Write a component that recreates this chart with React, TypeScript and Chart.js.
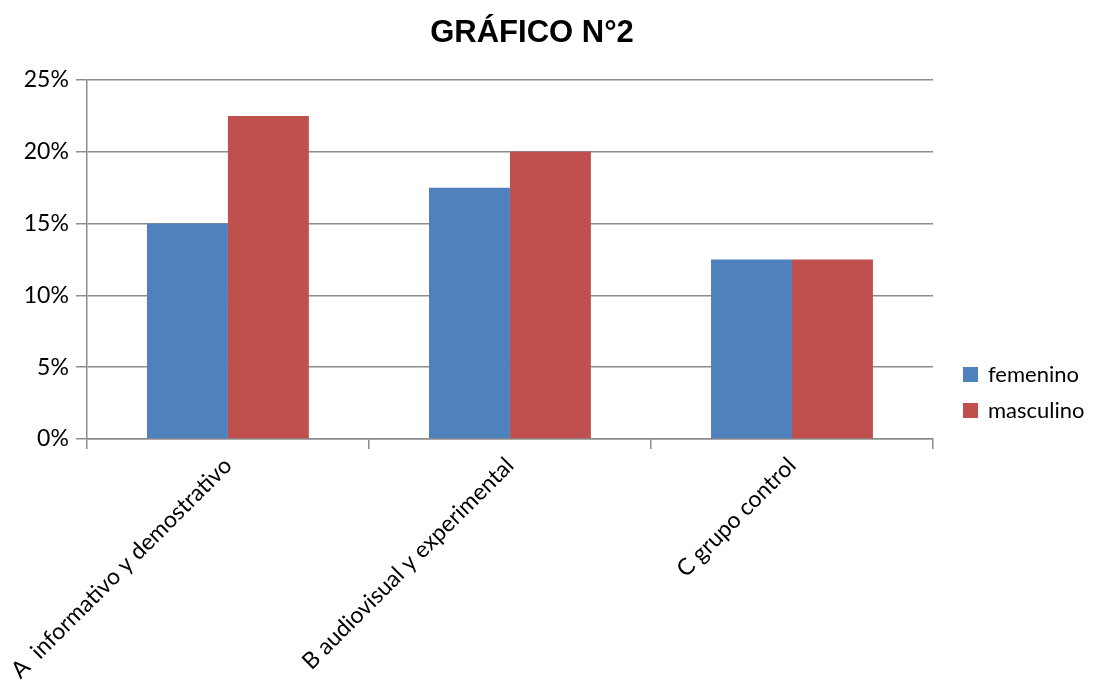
import React, { useEffect, useRef } from "react";
import { Chart, registerables } from "chart.js";

Chart.register(...registerables);

const title = "GRÁFICO N°2";
const categories = [
  "A  informativo y demostrativo",
  "B audiovisual y experimental",
  "C grupo control",
];
const femenino = [0.15, 0.175, 0.125];
const masculino = [0.225, 0.2, 0.125];
const yTicks = [0, 0.05, 0.1, 0.15, 0.2, 0.25];

const BLUE = "#4F81BD";
const RED = "#C0504D";
const GRID = "#8c8c8c";
const LABEL_FONT = "Lato, 'Open Sans', sans-serif";

// Draws the centered heading and the right-hand legend.
const decorations = {
  id: "decorations",
  afterDraw(chart: any) {
    const ctx = chart.ctx as CanvasRenderingContext2D;
    ctx.save();
    ctx.fillStyle = "#000";
    ctx.font = "bold 31px 'Liberation Sans', Arial, sans-serif";
    ctx.textAlign = "center";
    ctx.textBaseline = "alphabetic";
    ctx.fillText(title, 532, 42);

    const boxX = 963;
    const box = 15;
    let cy = 374.5;
    ctx.font = `22px ${LABEL_FONT}`;
    ctx.textAlign = "left";
    ctx.textBaseline = "middle";
    chart.data.datasets.forEach((ds: any) => {
      ctx.fillStyle = ds.backgroundColor;
      ctx.fillRect(boxX, cy - box / 2, box, box);
      ctx.fillStyle = "#000";
      ctx.fillText(ds.label, 988, cy);
      cy += 36;
    });
    ctx.restore();
  },
};

export default function App() {
  const ref = useRef<HTMLCanvasElement>(null);

  useEffect(() => {
    if (!ref.current) return;
    const chart = new Chart(ref.current, {
      type: "bar",
      data: {
        labels: categories,
        datasets: [
          { label: "femenino", data: femenino, backgroundColor: BLUE },
          { label: "masculino", data: masculino, backgroundColor: RED },
        ],
      },
      options: {
        animation: false,
        responsive: true,
        maintainAspectRatio: false,
        layout: { padding: { top: 80, right: 166, left: 4, bottom: 0 } },
        plugins: {
          legend: { display: false },
          title: { display: false },
          tooltip: { enabled: false },
        },
        datasets: {
          bar: { categoryPercentage: 0.574, barPercentage: 1 },
        },
        scales: {
          x: {
            afterFit: (axis: any) => {
              axis.height = 242;
            },
            grid: {
              offset: true,
              drawOnChartArea: false,
              drawTicks: true,
              tickLength: 10,
              color: GRID,
              lineWidth: 1.5,
            },
            border: { color: GRID, width: 1.5 },
            ticks: {
              color: "#000",
              font: { family: LABEL_FONT, size: 23 },
              minRotation: 45,
              maxRotation: 45,
              autoSkip: false,
              padding: 3,
            },
          },
          y: {
            min: 0,
            max: 0.25,
            afterBuildTicks: (axis: any) => {
              axis.ticks = yTicks.map((v) => ({ value: v }));
            },
            grid: {
              color: GRID,
              lineWidth: 1.5,
              drawTicks: true,
              tickLength: 11,
            },
            border: { color: GRID, width: 1.5 },
            ticks: {
              color: "#000",
              font: { family: LABEL_FONT, size: 23 },
              padding: 7,
              callback: (v: any) => `${Math.round(Number(v) * 100)}%`,
            },
          },
        },
      },
      plugins: [decorations],
    });
    return () => chart.destroy();
  }, []);

  return (
    <div style={{ position: "fixed", left: 0, top: 0, width: 1099, height: 681, background: "#fff" }}>
      <canvas ref={ref} />
    </div>
  );
}
